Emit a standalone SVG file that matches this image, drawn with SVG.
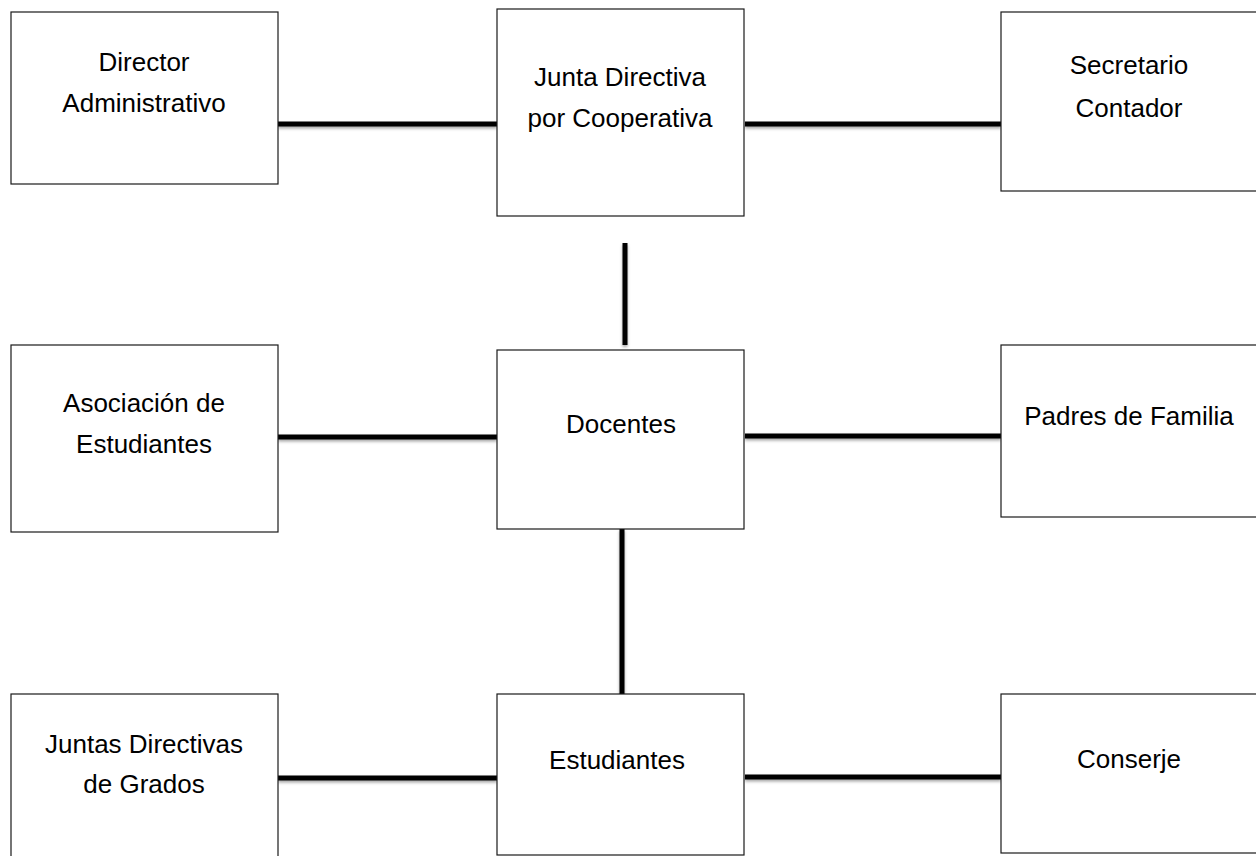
<svg xmlns="http://www.w3.org/2000/svg" width="1256" height="856" viewBox="0 0 1256 856">
<style>
.box{fill:#ffffff;stroke:#1a1a1a;stroke-width:1.2}
.lbl{font-family:"Liberation Sans",Arial,sans-serif;font-size:26px;fill:#000000;text-anchor:middle}
.conn{stroke:#000000;stroke-width:5;fill:none}
</style>
<defs>
<filter id="sh" x="-10%" y="-100%" width="120%" height="400%">
<feDropShadow dx="0" dy="2" stdDeviation="1.5" flood-color="#000000" flood-opacity="0.35"/>
</filter>
</defs>
<rect width="1256" height="856" fill="#ffffff"/>
<g id="connectors" filter="url(#sh)">
<line class="conn" x1="278" y1="124" x2="497" y2="124"/>
<line class="conn" x1="745" y1="124" x2="1001" y2="124"/>
<line class="conn" x1="625" y1="243" x2="625" y2="345"/>
<line class="conn" x1="278" y1="437" x2="497" y2="437"/>
<line class="conn" x1="745" y1="436" x2="1001" y2="436"/>
<line class="conn" x1="622" y1="529" x2="622" y2="694"/>
<line class="conn" x1="278" y1="778" x2="497" y2="778"/>
<line class="conn" x1="745" y1="777" x2="1001" y2="777"/>
</g>
<g id="director">
<rect class="box" x="11" y="12" width="267" height="172"/>
<text class="lbl" x="144" y="71">Director</text>
<text class="lbl" x="144" y="112">Administrativo</text>
</g>
<g id="junta">
<rect class="box" x="497" y="9" width="247" height="207"/>
<text class="lbl" x="620" y="86">Junta Directiva</text>
<text class="lbl" x="620" y="127">por Cooperativa</text>
</g>
<g id="secretario">
<rect class="box" x="1001" y="12" width="270" height="179"/>
<text class="lbl" x="1129" y="74">Secretario</text>
<text class="lbl" x="1129" y="117">Contador</text>
</g>
<g id="asociacion">
<rect class="box" x="11" y="345" width="267" height="187"/>
<text class="lbl" x="144" y="412">Asociación de</text>
<text class="lbl" x="144" y="453">Estudiantes</text>
</g>
<g id="docentes">
<rect class="box" x="497" y="350" width="247" height="179"/>
<text class="lbl" x="621" y="433">Docentes</text>
</g>
<g id="padres">
<rect class="box" x="1001" y="345" width="270" height="172"/>
<text class="lbl" x="1129" y="425">Padres de Familia</text>
</g>
<g id="juntas-grados">
<rect class="box" x="11" y="694" width="267" height="180"/>
<text class="lbl" x="144" y="753">Juntas Directivas</text>
<text class="lbl" x="144" y="793">de Grados</text>
</g>
<g id="estudiantes">
<rect class="box" x="497" y="694" width="247" height="161"/>
<text class="lbl" x="617" y="769">Estudiantes</text>
</g>
<g id="conserje">
<rect class="box" x="1001" y="694" width="270" height="159"/>
<text class="lbl" x="1129" y="768">Conserje</text>
</g>
</svg>
